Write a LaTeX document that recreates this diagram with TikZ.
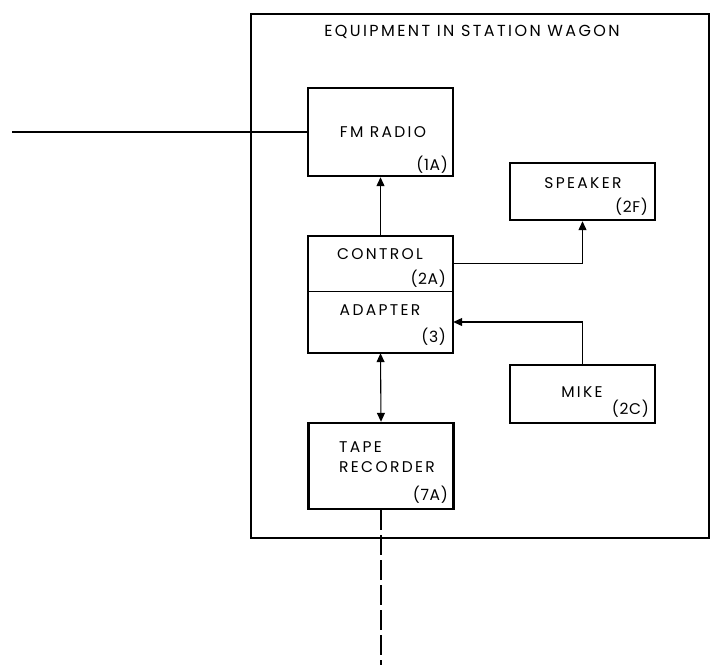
\documentclass[tikz,border=0pt]{standalone}
\usepackage{fontspec}
\setmainfont{Poppins}[LetterSpace=15]
\newfontfamily\codefont{Poppins}[LetterSpace=4]
\usetikzlibrary{arrows.meta}

\begin{document}
\begin{tikzpicture}[x=1pt,y=-1pt,>={Triangle[length=9pt,width=8pt]},line join=miter]
\useasboundingbox (0,0) rectangle (711,667);
\tikzset{unit/.style={draw=black,line width=2.4pt,minimum width=145pt,inner sep=0pt},part/.style={inner sep=0pt,minimum width=145pt},sig/.style={draw=black,line width=1.1pt},lbl/.style={font=\fontsize{15.5}{20}\selectfont,inner sep=0pt},code/.style={font=\codefont\fontsize{15.5}{20}\selectfont,inner sep=0pt,anchor=east}}
\draw[line width=2pt] (251,14) rectangle (709,538);
\node[lbl,font=\fontsize{16}{20}\selectfont] (title) at (472,32) {EQUIPMENT IN STATION WAGON};
% boxes
\node[unit,minimum height=88pt] (fm) at (380.5,132) {};
\node[part,minimum height=55pt] (ctrl) at (380.5,263.5) {};
\node[part,minimum height=62pt] (adp) at (380.5,322) {};
\draw[line width=2.4pt] (ctrl.north west) rectangle (adp.south east);
\draw[sig] (ctrl.south west) -- (ctrl.south east);
\node[unit,minimum height=57pt] (spk) at (582.5,191.5) {};
\node[unit,minimum height=58pt] (mike) at (582.5,394) {};
\node[unit,minimum height=86pt] (tape) at (381,466) {};
% texts
\node[lbl] (fmname) at (383,132) {FM RADIO}; \node[code] (fmcode) at (448,165) {(1A)};
\node[lbl] (ctrlname) at (380,254) {CONTROL}; \node[code] (ctrlcode) at (446,279) {(2A)};
\node[lbl] (adpname) at (380,310) {ADAPTER}; \node[code] (adpcode) at (446,337) {(3)};
\node[lbl] (spkname) at (583,183) {SPEAKER}; \node[code] (spkcode) at (648,207) {(2F)};
\node[lbl] (mikename) at (582,392) {MIKE}; \node[code] (mikecode) at (649,409) {(2C)};
\node[lbl,anchor=west,align=left] (tapename) at (339,457) {TAPE\\RECORDER}; \node[code] (tapecode) at (448,495) {(7A)};
% links
\coordinate (feed) at (12,132);
\coordinate (tapeout) at (378,665);
\draw[sig] (feed) -- (fm.west);
\draw[sig,->] (ctrl.north) -- (fm.south);
\draw[sig,->] (ctrl.east) -| (spk.south);
\draw[sig,->] (mike.north) |- (adp.east);
\draw[sig,<->] (adp.south) -- (tape.north);
\draw[sig,dash pattern=on 20pt off 5pt] (tape.south) -- (tape.south |- tapeout);
\end{tikzpicture}
\end{document}
